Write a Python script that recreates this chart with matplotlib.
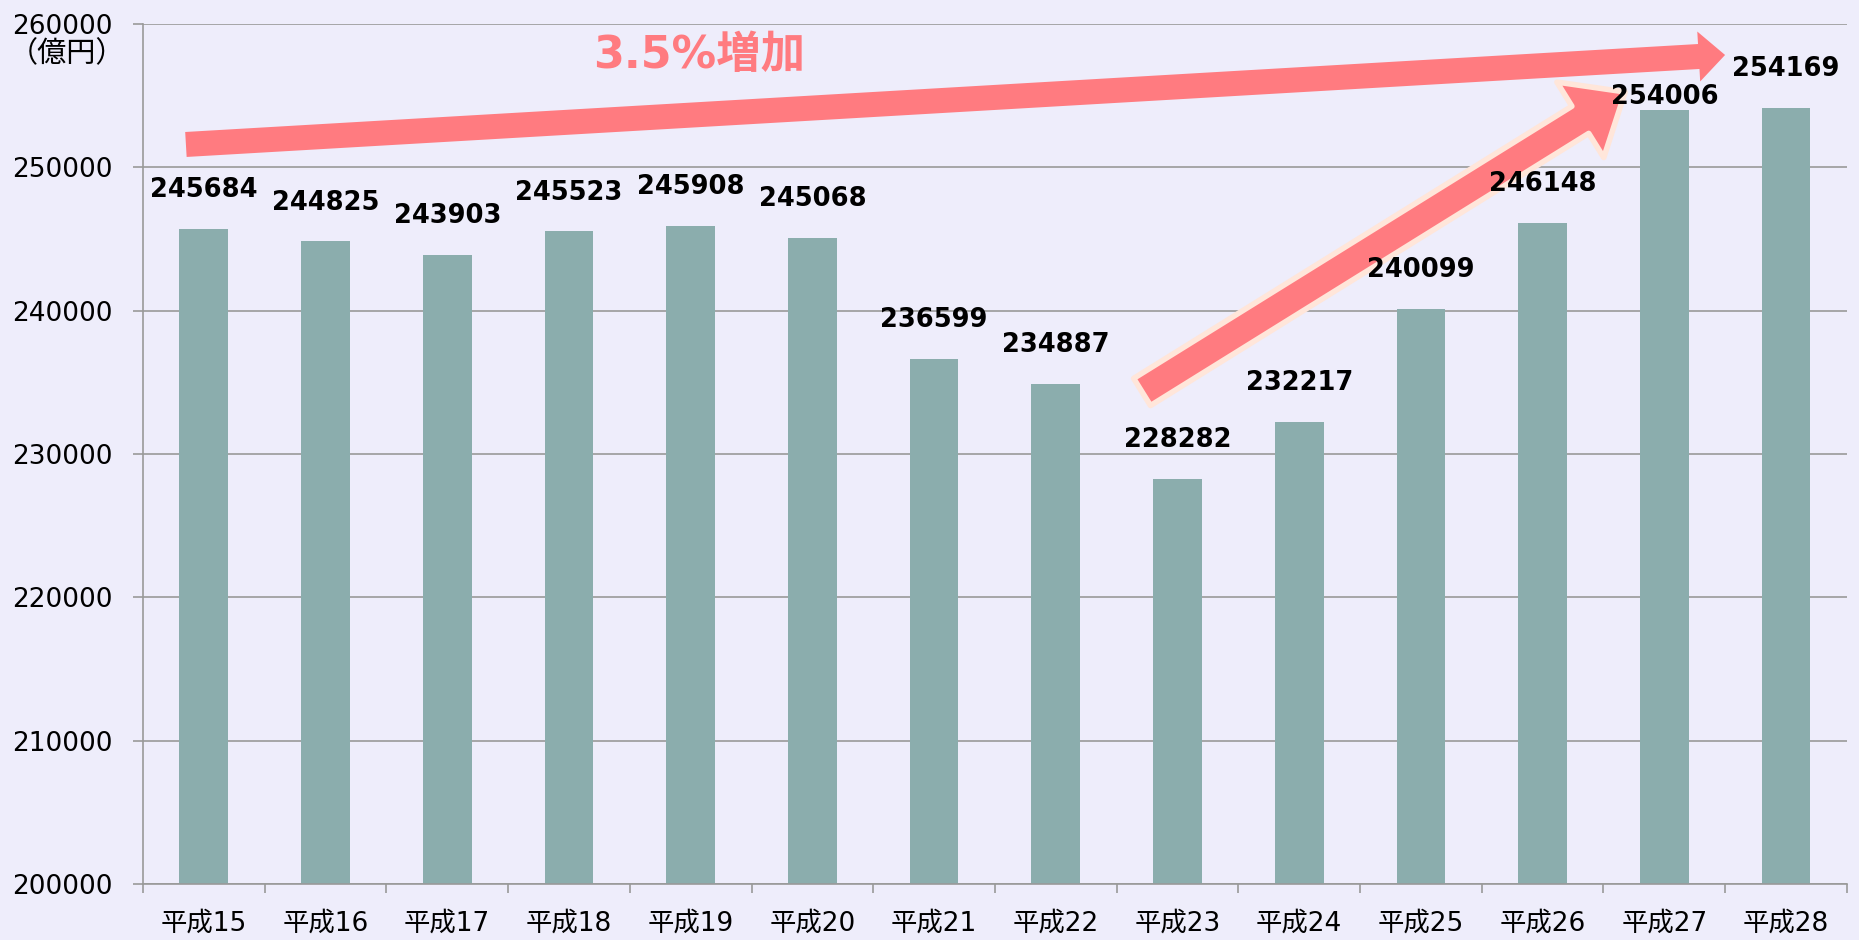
import matplotlib
matplotlib.use('Agg')
import matplotlib.pyplot as plt
import numpy as np

plt.rcParams['font.family'] = ['DejaVu Sans', 'Noto Sans CJK JP']

# データ
nendo = ['平成15', '平成16', '平成17', '平成18', '平成19', '平成20', '平成21',
         '平成22', '平成23', '平成24', '平成25', '平成26', '平成27', '平成28']
gaku = [245684, 244825, 243903, 245523, 245908, 245068, 236599,
        234887, 228282, 232217, 240099, 246148, 254006, 254169]

haikei = '#EEEDFB'
bar_iro = '#8BADAD'
aka = '#FF7B80'
fuchi = '#FFE6DA'
sen = '#999999'

fig = plt.figure(figsize=(18.59, 9.40), dpi=100, facecolor=haikei)
ax = fig.add_axes([0.0769, 0.0596, 0.9166, 0.9149])
ax.set_facecolor(haikei)

x = np.arange(len(nendo))
ax.bar(x, gaku, width=0.4, color=bar_iro, zorder=2)

ax.set_xlim(-0.5, len(nendo) - 0.5)
ax.set_ylim(200000, 260000)
ax.set_yticks(range(200000, 260001, 10000))
ax.yaxis.grid(True, color=sen, lw=1.2, zorder=0)

for s in ['top', 'right']:
    ax.spines[s].set_visible(False)
for s in ['left', 'bottom']:
    ax.spines[s].set_color(sen)
    ax.spines[s].set_linewidth(1.2)

ax.set_xticks(x)
ax.set_xticklabels(nendo)
ax.set_xticks(np.arange(-0.5, len(nendo)), minor=True)
ax.tick_params(axis='x', which='major', length=0, pad=19, labelsize=19)
ax.tick_params(axis='x', which='minor', length=6.5, width=1.2, color=sen)
ax.tick_params(axis='y', length=7, width=1.2, color=sen, labelsize=19, pad=15)

# 値ラベル
for i, v in enumerate(gaku):
    dy = 9 if i == 12 else 28
    ax.annotate(str(v), (i, v), xytext=(0, dy), textcoords='offset points',
                ha='center', va='center', fontsize=18.5, fontweight='bold',
                zorder=5)

fig.text(0.036, 0.9426, '（億円）', ha='center', va='center', fontsize=21)

# 矢印
ax.annotate('', xy=(12.499, 257837), xytext=(-0.147, 251593),
            arrowprops=dict(arrowstyle='simple,head_length=1.9,head_width=3.6,tail_width=1.8',
                            mutation_scale=10, fc=aka, ec='none', lw=0,
                            shrinkA=0, shrinkB=0), zorder=4)
ax.annotate('', xy=(11.678, 255256), xytext=(7.709, 234325),
            arrowprops=dict(arrowstyle='simple,head_length=3.8,head_width=6.4,tail_width=2.3',
                            mutation_scale=10, fc=aka, ec=fuchi, lw=4,
                            shrinkA=0, shrinkB=0), zorder=4)

fig.text(699 / 1859, 1 - 56 / 940, '3.5%増加', ha='center', va='center',
         fontsize=32, fontweight='bold', color=aka)

fig.savefig('out.png', dpi=100, facecolor=haikei)
